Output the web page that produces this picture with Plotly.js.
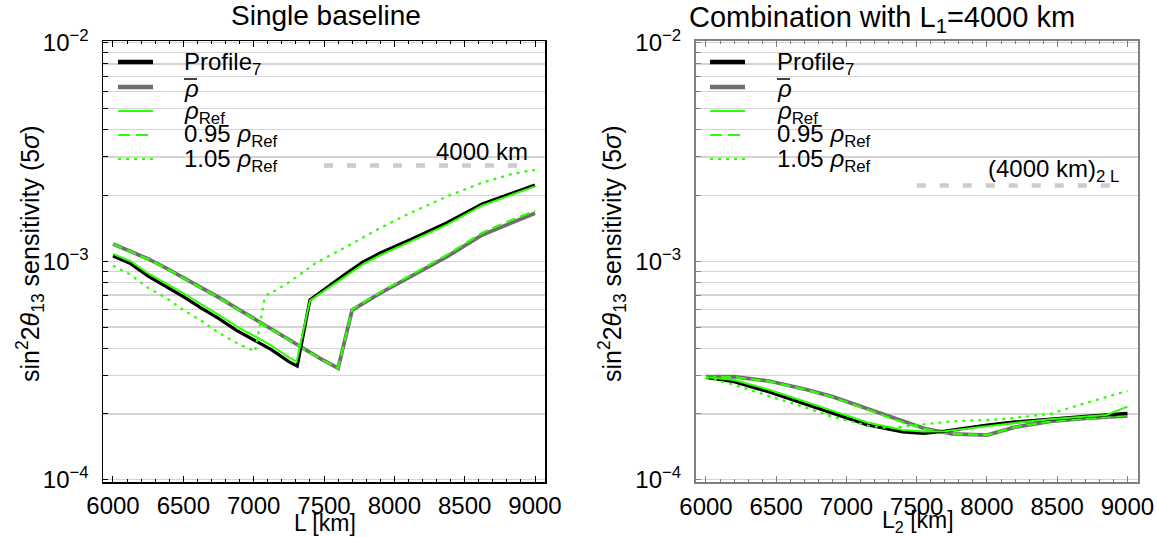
<!DOCTYPE html>
<html>
<head>
<meta charset="utf-8">
<script src="https://cdn.plot.ly/plotly-3.0.1.min.js"></script>
<style>html,body{margin:0;padding:0;background:#fff;}#chart{width:1157px;height:537px;}</style>
</head>
<body>
<div id="chart"></div>
<script>
// ---------- Left panel: Single baseline ----------
const xProfileL = [6000, 6125, 6250, 6375, 6500, 6625, 6750, 6875, 7000, 7125, 7250, 7310, 7400, 7550, 7650, 7775, 7900, 8125, 8375, 8625, 8850, 9000];
const yProfileL = [1.057e-3, 9.75e-4, 8.55e-4, 7.69e-4, 6.89e-4, 6.12e-4, 5.48e-4, 4.84e-4, 4.35e-4, 3.94e-4, 3.47e-4, 3.31e-4, 6.65e-4, 7.85e-4, 8.71e-4, 9.91e-4, 1.09e-3, 1.265e-3, 1.50e-3, 1.83e-3, 2.065e-3, 2.23e-3];

const xRefL = [6000, 6125, 6250, 6375, 6500, 6625, 6750, 6875, 7000, 7125, 7250, 7305, 7400, 7550, 7650, 7775, 7900, 8125, 8375, 8625, 8850, 9000];
const yRefL = [1.08e-3, 1.0e-3, 8.8e-4, 7.95e-4, 7.14e-4, 6.36e-4, 5.7e-4, 5.05e-4, 4.55e-4, 4.12e-4, 3.63e-4, 3.47e-4, 6.6e-4, 7.65e-4, 8.5e-4, 9.68e-4, 1.065e-3, 1.24e-3, 1.47e-3, 1.80e-3, 2.04e-3, 2.2e-3];

const xAvgL = [6000, 6250, 6375, 6500, 6625, 6750, 6875, 7000, 7125, 7250, 7375, 7475, 7600, 7700, 7900, 8125, 8375, 8625, 8850, 9000];
const yAvgL = [1.2e-3, 1.025e-3, 9.33e-4, 8.43e-4, 7.62e-4, 6.84e-4, 6.12e-4, 5.46e-4, 4.88e-4, 4.36e-4, 3.91e-4, 3.58e-4, 3.24e-4, 5.98e-4, 7.14e-4, 8.59e-4, 1.05e-3, 1.32e-3, 1.52e-3, 1.66e-3];

const xRef095L = [6000, 6250, 6375, 6500, 6625, 6750, 6875, 7000, 7125, 7250, 7375, 7475, 7600, 7700, 7900, 8125, 8375, 8625, 8850, 9000];
const yRef095L = [1.2e-3, 1.02e-3, 9.3e-4, 8.4e-4, 7.6e-4, 6.82e-4, 6.1e-4, 5.45e-4, 4.87e-4, 4.35e-4, 3.9e-4, 3.57e-4, 3.24e-4, 6.02e-4, 7.22e-4, 8.72e-4, 1.07e-3, 1.35e-3, 1.56e-3, 1.70e-3];

const xRef105L = [6000, 6125, 6250, 6375, 6500, 6625, 6750, 6875, 7010, 7040, 7075, 7110, 7150, 7250, 7350, 7450, 7650, 7900, 8125, 8375, 8625, 8850, 9000];
const yRef105L = [9.55e-4, 8.67e-4, 7.55e-4, 6.81e-4, 5.98e-4, 5.36e-4, 4.71e-4, 4.24e-4, 3.86e-4, 5.0e-4, 6.6e-4, 7.2e-4, 7.3e-4, 8.0e-4, 8.9e-4, 9.9e-4, 1.156e-3, 1.42e-3, 1.675e-3, 1.98e-3, 2.29e-3, 2.52e-3, 2.62e-3];

const xRefLineL = [7500, 8900];
const yRefLineL = [2.74e-3, 2.74e-3];

// ---------- Right panel: Combination with L1 = 4000 km ----------
const xProfileR = [6000, 6200, 6450, 6700, 6900, 7150, 7400, 7550, 7700, 8000, 8200, 8450, 8700, 9000];
const yProfileR = [2.94e-4, 2.81e-4, 2.52e-4, 2.22e-4, 2.02e-4, 1.78e-4, 1.655e-4, 1.63e-4, 1.67e-4, 1.78e-4, 1.84e-4, 1.9e-4, 1.95e-4, 2.01e-4];

const xRefR = [6000, 6200, 6450, 6700, 6900, 7150, 7400, 7550, 7700, 8000, 8200, 8450, 8700, 8850, 9000];
const yRefR = [2.95e-4, 2.86e-4, 2.58e-4, 2.28e-4, 2.07e-4, 1.83e-4, 1.69e-4, 1.66e-4, 1.665e-4, 1.76e-4, 1.82e-4, 1.89e-4, 1.95e-4, 1.98e-4, 2.16e-4];

const xAvgR = [6000, 6200, 6450, 6700, 6900, 7150, 7400, 7550, 7750, 8000, 8200, 8450, 8700, 9000];
const yAvgR = [2.96e-4, 2.96e-4, 2.83e-4, 2.6e-4, 2.4e-4, 2.11e-4, 1.84e-4, 1.72e-4, 1.62e-4, 1.60e-4, 1.74e-4, 1.85e-4, 1.91e-4, 1.96e-4];

const xRef095R = [6000, 6200, 6450, 6700, 6900, 7150, 7400, 7550, 7750, 8000, 8200, 8450, 8700, 9000];
const yRef095R = [2.96e-4, 2.95e-4, 2.82e-4, 2.59e-4, 2.39e-4, 2.1e-4, 1.83e-4, 1.71e-4, 1.62e-4, 1.60e-4, 1.74e-4, 1.85e-4, 1.91e-4, 1.97e-4];

const xRef105R = [6000, 6200, 6450, 6700, 6900, 7150, 7300, 7525, 7750, 8100, 8450, 8700, 9000];
const yRef105R = [2.94e-4, 2.72e-4, 2.41e-4, 2.15e-4, 1.94e-4, 1.77e-4, 1.72e-4, 1.78e-4, 1.85e-4, 1.89e-4, 2.0e-4, 2.24e-4, 2.55e-4];

const xRefLineR = [7500, 8900];
const yRefLineR = [2.22e-3, 2.22e-3];

// ---------- Axis ticks ----------
const yMajorVals = [1e-4, 1e-3, 1e-2];
const yMajorText = ['10<sup>\u22124</sup>', '10<sup>\u22123</sup>', '10<sup>\u22122</sup>'];
const yMinorVals = [2e-4,3e-4,4e-4,5e-4,6e-4,7e-4,8e-4,9e-4,2e-3,3e-3,4e-3,5e-3,6e-3,7e-3,8e-3,9e-3];
const xTickVals = [6000, 6500, 7000, 7500, 8000, 8500, 9000];
const xTickText = ['6000', '6500', '7000', '7500', '8000', '8500', '9000'];

const legendNames = ['Profile<sub>7</sub>', '<i>\u03C1</i>', '<i>\u03C1</i><sub>Ref</sub>', '0.95 <i>\u03C1</i><sub>Ref</sub>', '1.05 <i>\u03C1</i><sub>Ref</sub>'];

// ---------- Styles ----------
const GREEN = '#2bff00';
const GRAY = '#6e6e6e';
const FONT = 'Liberation Sans, Arial, sans-serif';
const styles = {
  profile: {color: 'black', width: 3.2},
  avg: {color: GRAY, width: 3.8},
  ref: {color: GREEN, width: 2},
  ref095: {color: GREEN, width: 2.2, dash: '10px,5px'},
  ref105: {color: GREEN, width: 2.2, dash: '3px,5px'},
  refline: {color: '#cccccc', width: 4.5, dash: '9px,14px'}
};

function tr(x, y, st, xa, ya) {
  return {x: x, y: y, type: 'scatter', mode: 'lines', line: st, xaxis: xa, yaxis: ya, showlegend: false, hoverinfo: 'skip'};
}

const data = [
  tr(xRefLineL, yRefLineL, styles.refline, 'x', 'y'),
  tr(xAvgL, yAvgL, styles.avg, 'x', 'y'),
  tr(xRef095L, yRef095L, styles.ref095, 'x', 'y'),
  tr(xProfileL, yProfileL, styles.profile, 'x', 'y'),
  tr(xRefL, yRefL, styles.ref, 'x', 'y'),
  tr(xRef105L, yRef105L, styles.ref105, 'x', 'y'),
  tr(xRefLineR, yRefLineR, styles.refline, 'x2', 'y2'),
  tr(xAvgR, yAvgR, styles.avg, 'x2', 'y2'),
  tr(xRef095R, yRef095R, styles.ref095, 'x2', 'y2'),
  tr(xProfileR, yProfileR, styles.profile, 'x2', 'y2'),
  tr(xRefR, yRefR, styles.ref, 'x2', 'y2'),
  tr(xRef105R, yRef105R, styles.ref105, 'x2', 'y2')
];

const W = 1157, H = 537;
const px = v => v / W, py = v => 1 - v / H;

function xAxis(dom, lc, rng) {
  return {
    domain: dom, range: rng, tickmode: 'array', tickvals: xTickVals, ticktext: xTickText,
    showgrid: false, zeroline: false, showline: true, linecolor: lc, linewidth: lc === 'black' ? 1.5 : 2,
    mirror: 'ticks', ticks: 'inside', ticklen: 6, tickcolor: lc, tickwidth: 1,
    minor: {tickmode: 'linear', tick0: 6000, dtick: 100, ticks: 'inside', ticklen: 3, tickcolor: lc, showgrid: false},
    tickfont: {family: FONT, size: 24, color: 'black'}, ticklabelstandoff: 2
  };
}
function yAxis(lc) {
  return {
    domain: [1 - 482 / H, 1 - 41 / H], type: 'log', range: [-4.0105, -1.992],
    tickmode: 'array', tickvals: yMajorVals, ticktext: yMajorText,
    showgrid: true, gridcolor: '#d4d4d4', gridwidth: 1.2, zeroline: false,
    showline: true, linecolor: lc, linewidth: lc === 'black' ? 1.5 : 2, mirror: true,
    ticks: 'inside', ticklen: 5, tickcolor: lc, tickwidth: 1,
    minor: {tickmode: 'array', tickvals: yMinorVals, ticks: 'inside', ticklen: 5, tickcolor: lc,
            showgrid: true, gridcolor: '#d4d4d4', gridwidth: 1.2},
    tickfont: {family: FONT, size: 24, color: 'black'}, ticklabelstandoff: 8
  };
}

const annotations = [];
const shapes = [];
function addAnno(text, x, y, opts) {
  annotations.push(Object.assign({text: text, x: x, y: y, xref: 'paper', yref: 'paper', showarrow: false,
    xanchor: 'center', yanchor: 'middle',
    font: {family: FONT, size: 24, color: 'black'}}, opts || {}));
}
// titles
addAnno('Single baseline', px(326), py(15), {font: {family: FONT, size: 28, color: 'black'}});
addAnno('Combination with L<sub>1</sub>=4000 km', px(882), py(19), {font: {family: FONT, size: 29, color: 'black'}});
addAnno('L [km]', px(325), py(523), {font: {family: FONT, size: 23, color: 'black'}});
addAnno('L<sub>2</sub> [km]', px(918), py(521), {font: {family: FONT, size: 23, color: 'black'}});
addAnno('sin<sup>2</sup>2<i>\u03B8</i><sub>13</sub> sensitivity (5<i>\u03C3</i>)', px(30), py(254), {textangle: -90, font: {family: FONT, size: 25, color: 'black'}});
addAnno('sin<sup>2</sup>2<i>\u03B8</i><sub>13</sub> sensitivity (5<i>\u03C3</i>)', px(612), py(254), {textangle: -90, font: {family: FONT, size: 25, color: 'black'}});

// manual legends
const legRows = [62, 87, 111, 135, 159];
const legStyles = [
  {color: 'black', width: 4.5},
  {color: GRAY, width: 4.5},
  {color: GREEN, width: 2.2},
  {color: GREEN, width: 2.2, dash: '12px,6px'},
  {color: GREEN, width: 2.2, dash: '3px,5px'}
];
[[118, 153, 182], [710, 745, 775]].forEach(([x0, x1, xt]) => {
  legRows.forEach((r, i) => {
    shapes.push({type: 'line', xref: 'paper', yref: 'paper', x0: px(x0), x1: px(x1), y0: py(r), y1: py(r), line: legStyles[i]});
    addAnno(legendNames[i], px(xt), py(r + 1), {xanchor: 'left', yanchor: 'middle'});
  });
  // overline of the mean density symbol
  shapes.push({type: 'line', xref: 'paper', yref: 'paper', x0: px(xt + 2), x1: px(xt + 15), y0: py(79), y1: py(79),
    line: {color: 'black', width: 1.5}});
});

// baseline reference labels
annotations.push({text: '4000 km', xref: 'x', yref: 'y', x: 8966, y: -2.4975, xanchor: 'right', yanchor: 'middle',
  showarrow: false, font: {family: FONT, size: 24, color: 'black'}});
annotations.push({text: '(4000 km)<sub>2 L</sub>', xref: 'x2', yref: 'y2', x: 8952, y: -2.585, xanchor: 'right', yanchor: 'middle',
  showarrow: false, font: {family: FONT, size: 24, color: 'black'}});

const layout = {
  width: W, height: H, autosize: false,
  margin: {l: 0, r: 0, t: 0, b: 0},
  paper_bgcolor: 'white', plot_bgcolor: 'white',
  showlegend: false,
  font: {family: FONT, color: 'black'},
  xaxis: Object.assign(xAxis([103 / W, 545 / W], 'black', [5929, 9071]), {anchor: 'y'}),
  yaxis: Object.assign(yAxis('black'), {anchor: 'x'}),
  xaxis2: Object.assign(xAxis([696 / W, 1138 / W], '#808080', [5929, 9075]), {anchor: 'y2'}),
  yaxis2: Object.assign(yAxis('#808080'), {anchor: 'x2'}),
  annotations: annotations,
  shapes: shapes
};

Plotly.newPlot('chart', data, layout, {staticPlot: true, displayModeBar: false});
</script>
</body>
</html>
